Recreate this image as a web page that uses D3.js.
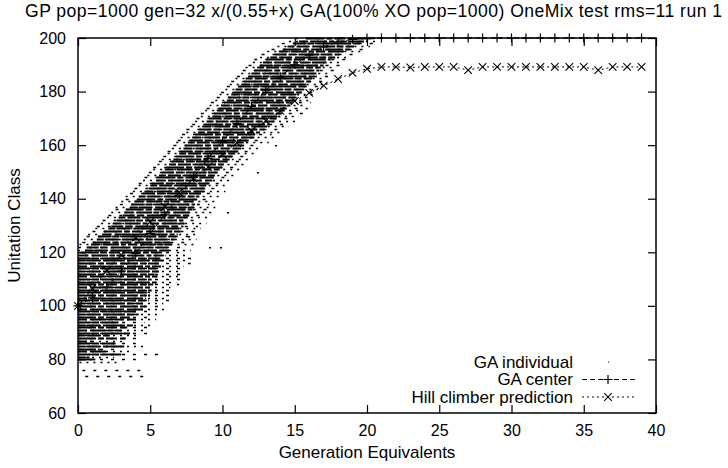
<!DOCTYPE html>
<html>
<head>
<meta charset="utf-8">
<script src="https://cdn.jsdelivr.net/npm/d3@7"></script>
<style>
  body { margin: 0; background: #fff; }
  svg { display: block; font-family: "Liberation Sans", Arial, Helvetica, sans-serif; }
</style>
</head>
<body>
<div id="chart"></div>
<script>
/* CONSTANTS AND GLOBALS */
const width = 728,
  height = 468,
  margin = { top: 38, right: 72, bottom: 55, left: 78 };

const titleText = "GP pop=1000 gen=32 x/(0.55+x) GA(100% XO pop=1000) OneMix test rms=11 run 1";
const xTicks = [0, 5, 10, 15, 20, 25, 30, 35, 40];
const yTicks = [60, 80, 100, 120, 140, 160, 180, 200];

// generation equivalents for the two curves
const genEq = [0, 1, 2, 3, 4, 5, 6, 7, 8, 9, 10, 11, 12, 13, 14, 15, 16, 17, 18, 19,
  20, 21, 22, 23, 24, 25, 26, 27, 28, 29, 30, 31, 32, 33, 34, 35, 36, 37, 38, 39];

const gaCenter = [100, 103, 107, 113, 119.6, 127, 134, 141, 148, 155, 161.5, 168, 174.5, 180.5, 185.5, 190, 193.6, 196.7, 198.6, 199.5,
  200, 200, 200, 200, 200, 200, 200, 200, 200, 200, 200, 200, 200, 200, 200, 200, 200, 200, 200, 200];

const hillClimber = [100, 106.5, 113.1, 119, 125.5, 131.4, 137, 142.3, 147.6, 151.9, 156.6, 160.9, 165.3, 169.1, 172.8, 176.5, 179.5, 182.2, 184.7, 187,
  188.5, 189.2, 189.2, 189, 189.2, 189.2, 189.2, 188, 189.2, 189.2, 189.2, 189.2, 189.2, 189.2, 189.2, 189.2, 188, 189.2, 189.2, 189.2];

// GA individuals: one row per unitation class, x-extent of the dense run and of the sparse fringe
const indivClass = d3.range(74, 201);

const indivFringeLo = [0.5, null, 0.3, null, null, 0.1,
  0, 0, 0, 0, 0, 0, 0, 0, 0, 0, 0, 0, 0, 0, 0, 0, 0, 0, 0, 0,
  0, 0, 0, 0, 0, 0, 0, 0, 0, 0, 0, 0, 0, 0, 0, 0, 0, 0, 0,
  0, 0, 0, 0, 0.1, 0.3, 0.4, 0.6, 0.7, 1.0, 1.2, 1.3, 1.6, 1.7, 2.0, 2.1, 2.3, 2.6, 2.6, 2.9, 3.0,
  3.3, 3.3, 3.6, 3.8, 3.9, 4.2, 4.2, 4.5, 4.6, 4.8, 4.9, 5.2, 5.2, 5.5, 5.6, 5.8, 5.9, 6.2, 6.2, 6.5,
  6.6, 6.8, 6.9, 7.1, 7.2, 7.5, 7.5, 7.8, 7.9, 8.1, 8.2, 8.5, 8.5, 8.8, 8.9, 9.1, 9.2, 9.5, 9.6, 9.8,
  9.9, 10.2, 10.3, 10.5, 10.6, 10.9, 11.0, 11.3, 11.4, 11.6, 11.8, 12.1, 12.2, 12.6, 12.7, 13.1, 13.4, 13.8, 14.1, 14.6, 15.0];

const indivCoreLo = [null, null, null, null, null, null,
  0, 0, 0, 0, 0, 0, 0, 0, 0, 0, 0, 0, 0, 0, 0, 0, 0, 0, 0, 0,
  0, 0, 0, 0, 0, 0, 0, 0, 0, 0, 0, 0, 0, 0, 0, 0, 0, 0, 0,
  0.1, 0.2, 0.5, 0.6, 0.9, 1.0, 1.3, 1.4, 1.7, 1.8, 2.1, 2.3, 2.4, 2.7, 2.8, 3.1, 3.2, 3.3, 3.6, 3.7, 3.9,
  4.1, 4.2, 4.5, 4.6, 4.9, 5.0, 5.1, 5.4, 5.5, 5.6, 5.8, 6.0, 6.1, 6.3, 6.5, 6.6, 6.8, 7.0, 7.1, 7.3,
  7.4, 7.6, 7.8, 7.9, 8.1, 8.3, 8.4, 8.6, 8.8, 8.9, 9.1, 9.3, 9.4, 9.6, 9.8, 9.9, 10.1, 10.3, 10.4, 10.6,
  10.8, 10.9, 11.1, 11.3, 11.5, 11.6, 11.8, 12.0, 12.2, 12.4, 12.6, 12.8, 13.0, 13.3, 13.6, 13.9, 14.2, 14.5, 14.9, 15.3, 15.8];

const indivCoreHi = [null, null, null, null, null, null,
  1.2, 0.8, 3.0, 2.0, 1.5, 3.2, 2.6, 1.0, 3.3, 2.2, 3.6, 3.0, 3.4, 3.8, 2.8, 4.0, 3.6, 4.2, 4.0, 4.6,
  4.8, 4.5, 4.9, 4.7, 5.0, 4.8, 5.1, 5.0, 5.2, 5.4, 5.1, 5.5, 5.3, 5.6, 5.4, 5.8, 5.6, 5.9, 5.7,
  6.1, 6.0, 6.3, 6.2, 6.5, 6.4, 6.7, 6.8, 6.9, 7.1, 7.0, 7.3, 7.4, 7.3, 7.6, 7.7, 7.8, 7.9, 8.0, 8.1, 8.0,
  8.3, 8.4, 8.6, 8.7, 8.8, 9.0, 9.1, 9.3, 9.4, 9.5, 9.6, 9.8, 10.0, 10.1, 10.3, 10.5, 10.7, 10.9, 11.1, 11.3,
  11.5, 11.7, 11.9, 12.2, 12.4, 12.6, 12.9, 13.1, 13.3, 13.6, 13.8, 14.0, 14.2, 14.3, 14.5, 14.7, 14.9, 15.0, 15.2, 15.3,
  15.5, 15.6, 15.8, 15.9, 16.1, 16.2, 16.4, 16.5, 16.7, 16.8, 17.0, 17.2, 17.5, 17.8, 18.1, 18.4, 18.8, 19.1, 19.5, 19.8, 20.3];

const indivFringeHi = [5.0, null, 4.6, null, null, 3.0,
  4.0, 2.5, 5.7, 3.8, 3.0, 4.6, 4.0, 3.2, 4.4, 4.2, 4.8, 4.5, 5.0, 5.2, 4.6, 5.4, 5.0, 5.6, 5.2, 6.0,
  5.8, 5.9, 6.4, 6.1, 6.6, 6.2, 6.8, 6.4, 7.0, 6.8, 7.2, 7.0, 7.5, 7.2, 7.6, 7.3, 7.8, 7.5, 8.0,
  7.6, 7.0, 7.8, 7.2, 8.0, 7.4, 8.2, 7.8, 8.4, 8.1, 8.5, 8.3, 8.9, 8.3, 9.1, 8.7, 9.3, 8.9, 9.5, 9.1, 9.5,
  9.3, 9.9, 9.6, 10.2, 9.8, 10.5, 10.1, 10.8, 10.4, 11.0, 10.6, 11.3, 11.0, 11.6, 11.3, 12.0, 11.7, 12.4, 12.1, 12.8,
  12.5, 13.2, 12.9, 13.7, 13.4, 14.1, 13.9, 14.6, 14.3, 15.1, 14.8, 15.3, 15.6, 15.5, 15.9, 15.8, 16.1, 16.1, 16.4, 16.3,
  16.6, 16.6, 16.9, 16.9, 17.2, 17.2, 17.5, 17.5, 17.8, 17.9, 18.2, 18.3, 18.6, 18.8, 19.2, 19.6, 19.9, 20.2, 20.5, 20.8, 21.0];

// a few stray individuals away from the band
const strayX = [9.1, 9.8, 10.3, 6.9, 7.6, 12.4, 13.6];
const strayY = [122, 122, 135, 131, 126, 150, 160];

/* SCALES */
const xScale = d3.scaleLinear()
  .domain([0, 40])
  .range([margin.left, width - margin.right]);

const yScale = d3.scaleLinear()
  .domain([60, 200])
  .range([height - margin.bottom, margin.top]);

/* SVG */
const svg = d3.select("#chart")
  .append("svg")
  .attr("width", width)
  .attr("height", height);

// + GA INDIVIDUALS
const rows = indivClass.map((c, i) => ({
  c, i,
  flo: indivFringeLo[i], fhi: indivFringeHi[i],
  clo: indivCoreLo[i], chi: indivCoreHi[i]
}));

const rowY = d => Math.round(yScale(d.c)) + 0.5;

svg.append("g")
  .attr("class", "fringe")
  .selectAll("line")
  .data(rows.filter(d => d.flo != null))
  .join("line")
  .attr("x1", d => xScale(d.flo))
  .attr("x2", d => xScale(d.fhi))
  .attr("y1", rowY)
  .attr("y2", rowY)
  .attr("stroke", "#000")
  .attr("stroke-width", 1.5)
  .attr("stroke-dasharray", d => d.i % 2 ? "2,5" : "3,8");

const dashes = ["12,2,7,3,20,2", "9,3,16,2,5,2", "18,2,6,2,11,3", "7,2,13,3,22,2"];
svg.append("g")
  .attr("class", "core")
  .selectAll("line")
  .data(rows.filter(d => d.clo != null))
  .join("line")
  .attr("x1", d => xScale(d.clo))
  .attr("x2", d => xScale(d.chi))
  .attr("y1", rowY)
  .attr("y2", rowY)
  .attr("stroke", "#000")
  .attr("stroke-width", 1.8)
  .attr("stroke-dasharray", d => dashes[d.i % 4]);

svg.append("g")
  .selectAll("rect")
  .data(strayX.map((x, i) => ({ x, y: strayY[i] })))
  .join("rect")
  .attr("x", d => Math.round(xScale(d.x)))
  .attr("y", d => Math.round(yScale(d.y)))
  .attr("width", 2)
  .attr("height", 1.5)
  .attr("fill", "#000");

// + CURVES
const ptsGA = genEq.map((g, i) => [g, gaCenter[i]]);
const ptsHC = genEq.map((g, i) => [g, hillClimber[i]]);
const line = d3.line().x(d => xScale(d[0])).y(d => yScale(d[1]));

svg.append("path")
  .attr("d", line(ptsGA))
  .attr("fill", "none")
  .attr("stroke", "#000")
  .attr("stroke-width", 1)
  .attr("stroke-dasharray", "5,3");

svg.append("path")
  .attr("d", line(ptsHC))
  .attr("fill", "none")
  .attr("stroke", "#000")
  .attr("stroke-width", 1)
  .attr("stroke-dasharray", "2,3");

const plusPath = s => `M${-s},0H${s}M0,${-s}V${s}`;
const crossPath = s => `M${-s},${-s}L${s},${s}M${-s},${s}L${s},${-s}`;

svg.append("g")
  .selectAll("path")
  .data(ptsGA)
  .join("path")
  .attr("transform", d => `translate(${xScale(d[0])},${yScale(d[1])})`)
  .attr("d", plusPath(4.5))
  .attr("stroke", "#000")
  .attr("stroke-width", 1.2)
  .attr("fill", "none");

svg.append("g")
  .selectAll("path")
  .data(ptsHC)
  .join("path")
  .attr("transform", d => `translate(${xScale(d[0])},${yScale(d[1])})`)
  .attr("d", crossPath(3.8))
  .attr("stroke", "#000")
  .attr("stroke-width", 1.1)
  .attr("fill", "none");

// + FRAME AND AXES (gnuplot style: inward ticks, mirrored)
const x0 = xScale(0), x1 = xScale(40), y0 = yScale(60), y1 = yScale(200);
const tickLen = 8;

svg.append("rect")
  .attr("x", x0).attr("y", y1)
  .attr("width", x1 - x0).attr("height", y0 - y1)
  .attr("fill", "none")
  .attr("stroke", "#000")
  .attr("stroke-width", 1.5);

const xAxisBottom = d3.axisBottom(xScale).tickValues(xTicks).tickSize(-tickLen).tickPadding(12);
const xAxisTop = d3.axisTop(xScale).tickValues(xTicks).tickSize(-tickLen).tickFormat("");
const yAxisLeft = d3.axisLeft(yScale).tickValues(yTicks).tickSize(-tickLen).tickPadding(12);
const yAxisRight = d3.axisRight(yScale).tickValues(yTicks).tickSize(-tickLen).tickFormat("");

function styleAxis(g) {
  g.select(".domain").remove();
  g.selectAll(".tick line").attr("stroke", "#000").attr("stroke-width", 1.2);
  g.selectAll(".tick text").attr("fill", "#000").attr("font-size", 16)
    .attr("font-family", "Liberation Sans, Arial, sans-serif");
}

svg.append("g").attr("transform", `translate(0,${y0})`).call(xAxisBottom).call(styleAxis);
svg.append("g").attr("transform", `translate(0,${y1})`).call(xAxisTop).call(styleAxis);
svg.append("g").attr("transform", `translate(${x0},0)`).call(yAxisLeft).call(styleAxis);
svg.append("g").attr("transform", `translate(${x1},0)`).call(yAxisRight).call(styleAxis);

// + LABELS
svg.append("text")
  .attr("x", 25)
  .attr("y", 17)
  .attr("font-size", 17.6)
  .attr("textLength", 697)
  .attr("lengthAdjust", "spacing")
  .text(titleText);

svg.append("text")
  .attr("x", (x0 + x1) / 2)
  .attr("y", 458)
  .attr("text-anchor", "middle")
  .attr("font-size", 17)
  .text("Generation Equivalents");

svg.append("text")
  .attr("transform", `translate(20,${(y0 + y1) / 2}) rotate(-90)`)
  .attr("text-anchor", "middle")
  .attr("font-size", 17)
  .text("Unitation Class");

// + LEGEND
const legend = [
  { label: "GA individual", kind: "dot" },
  { label: "GA center", kind: "plus" },
  { label: "Hill climber prediction", kind: "cross" }
];
const lgX = 573, lgY = 361.5, lgStep = 17.5, sx0 = 582, sx1 = 636, smid = 608;

const lg = svg.append("g").selectAll("g")
  .data(legend)
  .join("g")
  .attr("transform", (d, i) => `translate(0,${lgY + i * lgStep})`);

lg.append("text")
  .attr("x", lgX)
  .attr("y", 6)
  .attr("text-anchor", "end")
  .attr("font-size", 17)
  .text(d => d.label);

lg.filter(d => d.kind === "dot").append("rect")
  .attr("x", smid).attr("y", 0).attr("width", 1).attr("height", 1).attr("fill", "#000");

lg.filter(d => d.kind !== "dot").append("line")
  .attr("x1", sx0).attr("x2", sx1).attr("y1", 0.5).attr("y2", 0.5)
  .attr("stroke", "#000").attr("stroke-width", 1)
  .attr("stroke-dasharray", d => d.kind === "plus" ? "5,3" : "2,3");

lg.filter(d => d.kind === "plus").append("path")
  .attr("transform", `translate(${smid},0.5)`)
  .attr("d", plusPath(4.5)).attr("stroke", "#000").attr("stroke-width", 1.2);

lg.filter(d => d.kind === "cross").append("path")
  .attr("transform", `translate(${smid},0.5)`)
  .attr("d", crossPath(3.8)).attr("stroke", "#000").attr("stroke-width", 1.1);
</script>
</body>
</html>
